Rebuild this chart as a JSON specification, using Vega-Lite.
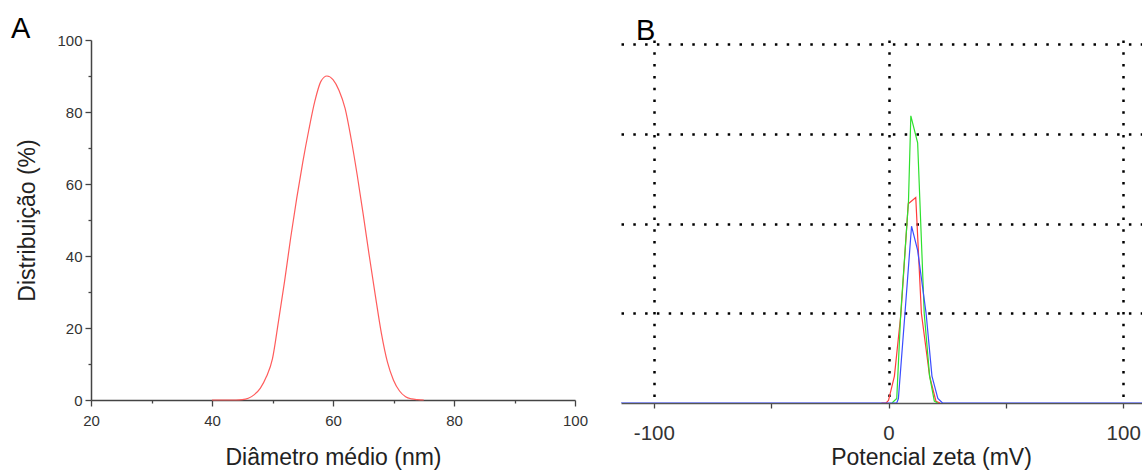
{
  "$schema": "https://vega.github.io/schema/vega-lite/v6.json",
  "background": "white",
  "padding": {"left": 10, "top": 15, "right": 0, "bottom": 0},
  "config": {"font": "Liberation Sans", "view": {"stroke": null}},
  "spacing": 33,
  "hconcat": [
    {
      "title": {"text": "A", "anchor": "start", "frame": "bounds", "fontSize": 29, "fontWeight": "normal", "color": "#000", "offset": -11, "dx": -6},
      "width": 484,
      "height": 360,
      "data": {"values": [
        {"d": 40, "p": 0}, {"d": 41, "p": 0}, {"d": 42, "p": 0}, {"d": 43, "p": 0}, {"d": 44, "p": 0},
        {"d": 45, "p": 0.1}, {"d": 46, "p": 0.5}, {"d": 47, "p": 1.5}, {"d": 48, "p": 3.3}, {"d": 49, "p": 6.5},
        {"d": 50, "p": 11.5}, {"d": 51, "p": 22}, {"d": 52, "p": 33}, {"d": 53, "p": 45}, {"d": 54, "p": 56},
        {"d": 55, "p": 66}, {"d": 56, "p": 75}, {"d": 57, "p": 83}, {"d": 58, "p": 88.5}, {"d": 59, "p": 90},
        {"d": 60, "p": 89}, {"d": 61, "p": 86}, {"d": 62, "p": 81}, {"d": 63, "p": 72.5}, {"d": 64, "p": 62.5},
        {"d": 65, "p": 51.5}, {"d": 66, "p": 40}, {"d": 67, "p": 29}, {"d": 68, "p": 18.5}, {"d": 69, "p": 10.5},
        {"d": 70, "p": 5.5}, {"d": 71, "p": 2.5}, {"d": 72, "p": 0.9}, {"d": 73, "p": 0.3}, {"d": 74, "p": 0.1},
        {"d": 75, "p": 0}
      ]},
      "mark": {"type": "line", "color": "#ff5c5c", "strokeWidth": 1.2, "interpolate": "monotone"},
      "encoding": {
        "x": {
          "field": "d", "type": "quantitative",
          "scale": {"domain": [20, 100], "nice": false, "zero": false},
          "axis": {
            "values": [20, 30, 40, 50, 60, 70, 80, 90, 100],
            "labelExpr": "datum.value % 20 === 0 ? datum.label : ''",
            "title": "Diâmetro médio (nm)",
            "titleFontSize": 23, "titleFontWeight": "normal", "titleColor": "#222", "titlePadding": 18,
            "labelFontSize": 15, "labelColor": "#333", "labelPadding": 7, "labelFlush": false,
            "domainColor": "#444", "domainWidth": 1.5,
            "tickColor": "#444", "tickWidth": 1.3,
            "tickSize": {"condition": {"test": "datum.value % 20 === 0", "value": 6}, "value": 3},
            "grid": false
          }
        },
        "y": {
          "field": "p", "type": "quantitative",
          "scale": {"domain": [0, 100], "nice": false},
          "axis": {
            "values": [0, 10, 20, 30, 40, 50, 60, 70, 80, 90, 100],
            "labelExpr": "datum.value % 20 === 0 ? datum.label : ''",
            "title": "Distribuição (%)",
            "titleFontSize": 23, "titleFontWeight": "normal", "titleColor": "#222", "titlePadding": 17,
            "labelFontSize": 15, "labelColor": "#333", "labelPadding": 3,
            "domainColor": "#444", "domainWidth": 1.5,
            "tickColor": "#444", "tickWidth": 1.3,
            "tickSize": {"condition": {"test": "datum.value % 20 === 0", "value": 6}, "value": 3},
            "grid": false
          }
        }
      }
    },
    {
      "title": {"text": "B", "anchor": "start", "frame": "group", "fontSize": 29, "fontWeight": "normal", "color": "#000", "offset": -6, "dx": 15},
      "width": 521,
      "height": 363,
      "data": {"values": [
        {"s": "red", "z": -3, "v": 0}, {"s": "red", "z": -1, "v": 0}, {"s": "red", "z": 0, "v": 0.03},
        {"s": "red", "z": 2.5, "v": 0.3}, {"s": "red", "z": 5.3, "v": 1.0}, {"s": "red", "z": 8.4, "v": 2.22},
        {"s": "red", "z": 11.6, "v": 2.29}, {"s": "red", "z": 14.0, "v": 1.0}, {"s": "red", "z": 17.5, "v": 0.3},
        {"s": "red", "z": 20.2, "v": 0.02}, {"s": "red", "z": 22, "v": 0},
        {"s": "green", "z": 1.5, "v": 0}, {"s": "green", "z": 3.5, "v": 0.05}, {"s": "green", "z": 5.2, "v": 1.0},
        {"s": "green", "z": 8.5, "v": 2.25}, {"s": "green", "z": 9.5, "v": 3.2}, {"s": "green", "z": 12.4, "v": 2.9},
        {"s": "green", "z": 15.2, "v": 1.0}, {"s": "green", "z": 17.5, "v": 0.3}, {"s": "green", "z": 19.5, "v": 0.02},
        {"s": "green", "z": 21, "v": 0},
        {"s": "blue", "z": -114, "v": 0}, {"s": "blue", "z": 3.5, "v": 0}, {"s": "blue", "z": 4.2, "v": 0.05},
        {"s": "blue", "z": 7.0, "v": 1.0}, {"s": "blue", "z": 9.8, "v": 1.97}, {"s": "blue", "z": 12.4, "v": 1.7},
        {"s": "blue", "z": 16.0, "v": 1.0}, {"s": "blue", "z": 18.5, "v": 0.3}, {"s": "blue", "z": 21, "v": 0.05},
        {"s": "blue", "z": 23, "v": 0}, {"s": "blue", "z": 108, "v": 0}
      ]},
      "mark": {"type": "line", "strokeWidth": 1.2, "clip": true},
      "encoding": {
        "x": {
          "field": "z", "type": "quantitative",
          "scale": {"domain": [-114, 108], "nice": false, "zero": false},
          "axis": {
            "values": [-100, -50, 0, 50, 100],
            "labelExpr": "datum.value % 100 === 0 ? '' + datum.value : ''",
            "title": "Potencial zeta (mV)", "titleX": 310,
            "titleFontSize": 23, "titleFontWeight": "normal", "titleColor": "#222", "titlePadding": 3,
            "labelFontSize": 20.5, "labelColor": "#333", "labelPadding": 15, "labelFlush": false,
            "domainColor": "#555", "domainWidth": 1.5,
            "tickColor": "#444", "tickWidth": 1.3, "tickSize": 5,
            "grid": true, "gridColor": "#000", "gridDash": [2.5, 9.3], "gridWidth": 2.5,
            "gridOpacity": {"condition": {"test": "abs(datum.value) === 50", "value": 0}, "value": 1}
          }
        },
        "y": {
          "field": "v", "type": "quantitative",
          "scale": {"domain": [0, 4.045], "nice": false},
          "axis": {
            "values": [1, 2, 3, 4], "labels": false, "ticks": false, "domain": false, "title": null,
            "grid": true, "gridColor": "#000", "gridDash": [2.5, 9.3], "gridWidth": 2.5
          }
        },
        "color": {
          "field": "s", "type": "nominal",
          "scale": {"domain": ["red", "green", "blue"], "range": ["#ff3b3b", "#2ee02e", "#3a4cff"]},
          "legend": null
        }
      }
    }
  ]
}
